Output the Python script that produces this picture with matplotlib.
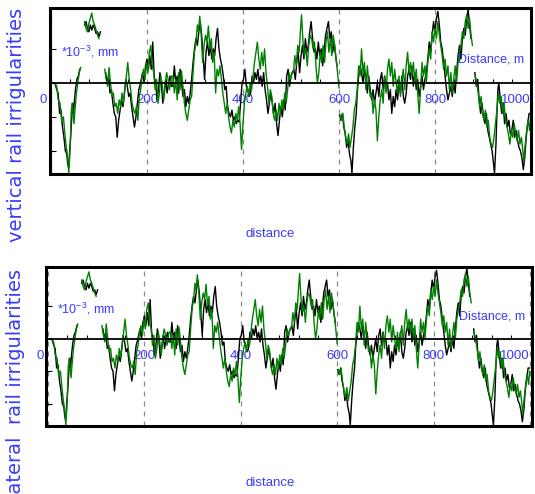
import numpy as np
import matplotlib
matplotlib.use("Agg")
import matplotlib.pyplot as plt
from matplotlib.patches import Rectangle
from matplotlib.ticker import MultipleLocator
from matplotlib.transforms import ScaledTranslation

NAN = np.nan

# ---- black series (distance m, irregularity *10^-3 mm) ----
dist_black = [0, 8, 12, 15, 18, 21, 24, 27, 30, 33, 35, 37, 39, 41, 43, 45, 47, 49, 51, 54, 57, 60, 65,
              70, 73, 76, 79, 82, 85, 88, 91, 94, 97, 100, 103, 108,
              114, 117, 120, 123, 126, 129, 132, 135, 138, 141, 144, 147, 150, 153, 156, 159, 162, 165, 168,
              171, 174, 177, 180, 183, 185, 188, 191, 194, 197, 200, 203, 206, 209, 212, 215, 218, 221, 224,
              227, 230, 233, 236, 239, 242, 245, 248, 251,
              254, 257, 260, 263, 266, 269, 272, 275, 278, 281, 284, 287, 290, 293, 296, 299, 302, 305, 308,
              311, 314, 317, 320, 323, 326, 329, 332, 335, 338, 341, 344, 347, 350, 353, 356, 359, 362, 365,
              368, 371, 374, 377, 380, 383, 386, 389, 392, 395, 398, 401, 404, 407, 410, 413, 416, 419, 422,
              425, 428, 431, 434, 437, 440, 443, 446, 449, 452, 455, 458, 461, 464, 467, 470, 473, 476, 479,
              482, 485, 488, 491, 494, 497, 500,
              503, 506, 509, 512, 515, 518, 521, 524, 527, 530, 533, 536, 539, 542, 545, 548, 551, 554, 557,
              560, 563, 566, 569, 572, 575, 578, 581, 584, 587, 590, 593, 596, 599,
              601, 604, 607, 610, 613, 616, 619, 622, 625, 627, 630, 633, 636, 638, 641, 644, 647, 650, 653,
              656, 659, 662, 665, 668, 671, 674, 677, 680, 683, 686, 689, 692, 695, 698, 701, 704, 707, 710,
              713, 716, 719, 722, 725, 728, 731, 734, 737, 740, 743, 746, 749,
              752, 755, 758, 761, 764, 767, 770, 773, 776, 779, 782, 785, 788, 791, 794, 797, 800, 803, 806,
              809, 812, 815, 818, 821, 824, 827, 830, 833, 836, 839, 842, 845, 848, 851, 854, 857, 860, 863,
              866, 869, 872, 875, 879,
              883, 886, 889, 892, 895, 898, 901, 904, 907, 910, 913, 916, 919, 922, 924, 927, 929, 931, 933,
              936, 939, 942, 945, 948, 951, 954, 957, 960, 963, 966, 969, 972, 975, 978, 981, 984, 987, 990,
              993, 996, 999]
irr_black = [0.0, 0.0, -0.2, -0.3, -0.9, -0.8, -1.3, -1.6, -2.0, -2.1, -2.4, -2.5, -2.0, -1.6, -1.1, -0.6, -0.9, -0.5, -0.2, 0.1, 0.2, 0.4, NAN,
             1.7, 1.8, 1.6, 1.5, 1.7, 1.55, 1.7, 1.6, 1.45, 1.5, 1.35, 1.5, NAN,
             0.3, 0.0, 0.2, -0.3, -0.2, -0.6, -0.9, -1.0, -1.6, -1.1, -0.8, -0.5, -0.7, -0.3, 0.1, -0.1, -0.4, -0.3, -0.7,
             -1.0, -1.3, -1.0, -0.6, -0.2, -0.1, 0.1, 0.3, 0.0, 0.5, 0.7, 0.4, 0.8, 0.4, 1.2, 0.2, 0.0, -0.5, -0.2,
             0.3, 0.0, -0.6, -0.3, 0.1, -0.3, 0.0, 0.2, -0.1,
             -0.1, 0.5, 0.0, 0.2, -0.3, 0.4, 0.0, -0.4, -0.2, -0.7, -0.4, -0.6, -0.3, 0.1, 0.6, 1.0, 1.3, 1.1, 1.5,
             1.8, 1.4, 0.8, 0.1, 0.9, 1.2, 0.8, 1.1, 0.7, 1.0, 0.8, 1.3, 1.6, 1.0, 0.7, 0.5, 0.2, -0.2, -0.1,
             -0.7, -0.9, -1.0, -0.8, -1.1, -1.0, -1.2, -1.1, -1.15, -0.6, 0.0, 0.1, 0.4, -0.1, -0.2, -0.4, -0.3, 0.2, 0.0,
             0.3, 0.1, 0.4, 0.0, 0.2, -0.1, 0.3, -0.2, -0.5, -0.9, -0.6, -0.3, -0.6, -0.9, -0.6, -1.2, -1.55, -1.1, -0.7,
             -1.0, -0.5, -0.8, 0.2, 0.4, -0.1, 0.2,
             0.3, 0.4, 0.1, 0.6, 0.9, 0.3, 0.8, 1.1, 0.7, 1.3, 0.9, 1.1, 1.5, 1.8, 1.3, 0.9, 1.0, 0.7, 1.2,
             0.8, 1.0, 0.5, 0.9, 1.4, 1.6, 1.8, 1.3, 1.5, 0.9, 1.2, 0.8, 0.5, NAN,
             -0.95, -1.1, -0.9, -1.3, -1.5, -1.9, -1.7, -2.1, -2.3, -2.66, -1.9, -1.3, -0.9, -0.3, 0.2, 0.5, 0.3, 0.0, 0.4,
             0.1, -0.3, 0.2, -0.2, -0.5, -0.2, -0.6, -0.3, 0.0, -0.4, 0.1, 0.3, -0.2, 0.2, -0.1, 0.0, -0.5, -0.2, -0.9,
             -0.4, -0.7, -0.2, -0.5, 0.0, -0.3, 0.2, -0.4, -0.6, -0.3, 0.2, 0.4, 0.1,
             0.5, -0.1, 0.3, -0.2, 0.1, -0.4, -0.1, 0.2, -0.2, 0.1, 0.3, 0.7, 1.2, 0.9, 1.4, 1.8, 1.5, 1.9, 2.1,
             1.7, 1.2, 1.0, 0.6, 0.2, -0.2, -0.5, -0.3, -0.1, -0.4, 0.0, -0.3, 0.3, 0.8, 1.1, 0.7, 1.3, 1.6, 1.4,
             1.9, 2.16, 1.7, 1.3, NAN,
             0.3, -0.1, 0.1, -0.5, -0.9, -0.6, -1.0, -1.2, -0.9, -1.4, -1.6, -1.8, -2.0, -2.4, -2.66, -1.8, -0.9, -0.2, 0.0,
             -0.5, -0.9, -0.6, -1.2, -0.9, -1.3, -1.1, -1.5, -1.4, -1.1, -1.6, -1.4, -1.7, -1.9, -2.0, -2.2, -2.55, -2.2, -1.6,
             -1.2, -0.9, -0.9]

# ---- green series ----
dist_green = [8, 12, 15, 19, 22, 26, 29, 32, 35, 37, 39, 41, 42, 44, 46, 48, 50, 53, 56, 59, 62, 66,
              70, 73, 76, 79, 82, 85, 88, 91, 94, 97, 100, 106,
              112, 115, 118, 121, 124, 127, 130, 133, 136, 139, 142, 145, 148, 151, 154, 157, 160, 163, 166,
              169, 172, 175, 178, 181, 184, 187, 190, 193, 196, 199, 202, 205, 208, 211, 214, 217, 220, 223,
              226, 229, 232, 235, 238, 241, 244, 247, 251,
              254, 257, 260, 263, 266, 269, 272, 275, 278, 281, 284, 287, 290, 293, 296, 299, 302, 305, 307,
              310, 313, 316, 319, 322, 325, 328, 331, 334, 337, 340, 343, 346, 349, 352, 355, 358, 361, 364,
              367, 370, 373, 376, 379, 382, 385, 388, 391, 394, 397, 400, 403, 406, 409, 412, 415, 418, 421,
              424, 427, 430, 433, 436, 439, 442, 445, 448, 451, 454, 457, 460, 463, 466, 469, 472, 475, 478,
              481, 484, 487, 490, 493, 496, 499, 502,
              505, 508, 511, 514, 517, 520, 522, 525, 528, 531, 534, 537, 540, 543, 546, 549, 552, 555, 558,
              561, 564, 567, 570, 573, 576, 579, 582, 585, 588, 591, 594, 597, 600, 601,
              602, 605, 608, 611, 614, 617, 620, 623, 626, 629, 632, 635, 638, 641, 644, 647, 650, 653, 656,
              659, 662, 665, 668, 671, 674, 677, 680, 683, 686, 689, 692, 695, 698, 701, 704, 707, 710, 713,
              716, 719, 722, 725, 728, 731, 734, 737, 740, 743, 746, 749,
              752, 755, 758, 761, 764, 767, 770, 773, 776, 779, 782, 785, 788, 791, 794, 797, 800, 803, 806,
              809, 812, 815, 818, 821, 824, 827, 830, 833, 836, 839, 842, 845, 848, 851, 854, 857, 860, 863,
              866, 869, 872, 875, 878, 881,
              884, 887, 890, 893, 896, 899, 902, 905, 908, 911, 914, 917, 920, 923, 926, 929, 932, 935, 938,
              941, 944, 947, 950, 953, 956, 959, 962, 965, 968, 971, 974, 977, 980, 983, 985, 988, 991, 994,
              997, 999]
irr_green = [0.0, -0.1, -0.5, -0.6, -1.1, -1.0, -1.5, -1.9, -2.2, -2.66, -2.2, -1.5, -0.9, -0.6, -0.9, -1.2, -0.8, -0.3, 0.0, 0.3, 0.45, NAN,
             1.8, 1.6, 1.5, 1.75, 1.9, 2.05, 1.8, 1.7, 1.55, 1.4, 1.3, NAN,
             0.4, 0.1, -0.1, 0.45, 0.0, -0.4, -0.3, -0.7, -0.6, -0.9, -0.5, -0.7, -0.3, -0.6, -0.2, 0.2, 0.6, 0.1, -0.2,
             -0.6, -0.8, -0.9, -0.7, -1.1, -0.4, -0.2, 0.2, 0.4, 0.1, 0.6, 0.3, 0.9, 1.1, 0.5, 0.3, -0.2, 0.1, -0.6,
             -0.3, 0.2, -0.1, -0.5, 0.0, 0.3, 0.1, -0.2, 0.2,
             0.2, -0.3, 0.1, -0.5, 0.3, -0.2, 0.35, -0.1, -0.6, -0.9, -1.1, -0.8, -0.5, -0.4, 0.3, 0.9, 1.2, 1.7, 1.5,
             1.96, 1.4, 0.6, 1.1, 1.4, 1.2, 1.67, 1.0, 1.3, 0.6, 0.9, -0.3, 0.4, 0.2, 0.5, 0.1, -0.3, -0.6, -0.9,
             -0.6, -1.0, -1.3, -1.47, -1.1, -1.3, -0.9, -1.1, -0.7, -1.2, -1.96, -1.2, -0.6, -0.3, -0.1, -0.4, 0.0, -0.2, 0.2,
             0.6, 0.9, 1.2, 0.7, 0.4, 0.9, 0.5, 1.0, 0.3, -0.1, -0.6, -0.2, -0.4, -0.9, -1.1, -0.8, -1.1, -0.6, -0.9,
             -0.5, -0.8, -0.3, -0.6, -0.2, 0.3, 0.1, 0.3,
             0.3, 0.8, 0.5, 1.1, 0.9, 1.6, 2.0, 1.2, 0.8, 1.0, 0.5, 1.1, 1.4, 1.3, 1.0, 1.2, 0.5, 0.0, 0.3,
             0.9, 0.6, 1.1, 0.6, 1.2, 1.5, 0.9, 1.3, 0.8, 1.4, 1.1, 0.7, 0.3, -0.15, NAN,
             -0.95, -1.1, -0.9, -1.3, -1.6, -1.8, -1.5, -1.9, -1.6, -1.3, -0.8, -0.6, -0.2, 0.5, 0.2, 1.0, 0.3, 0.6, -0.2,
             0.5, 0.0, -0.4, -0.3, -0.9, -0.5, -0.8, -1.7, -1.0, -0.5, -0.2, -0.6, 0.2, -0.3, 0.4, 0.7, 0.2, 0.6, -0.1,
             0.4, 0.0, -0.3, 0.2, -0.4, 0.1, 0.4, -0.2, 0.5, 0.9, 0.3, 0.6,
             0.2, 0.6, 0.0, 0.4, -0.3, -0.9, -0.2, 0.6, 0.2, 0.5, 0.0, 0.6, 1.0, 0.7, 1.5, 1.2, 1.6, 1.3, 1.8,
             1.4, 1.1, 0.8, 0.4, 0.7, 0.2, 0.5, -0.2, 0.3, -0.3, 0.1, 0.5, 0.0, 0.6, 0.9, 1.1, 1.5, 1.3, 1.8,
             2.0, 1.6, 1.9, 1.4, 1.1, NAN,
             0.2, 0.0, -0.3, -0.7, -0.4, -0.9, -1.1, -0.8, -1.3, -1.1, -1.6, -1.8, -1.9, -1.6, -1.2, -0.8, -0.3, -0.6, -0.4,
             -0.9, -0.6, -1.1, -1.3, -1.5, -1.8, -1.4, -1.6, -1.2, -1.5, -1.7, -1.4, -1.8, -1.6, -2.0, -2.3, -1.8, -1.4, -1.1,
             -1.4, -1.0]

x_ticks = [0, 200, 400, 600, 800, 1000]
x_ticklabels = ["0", "200", "400", "600", "800", "1000"]
y_ticks = [-2, -1, 0, 1]

BLUE = "#3a3aff"
GREEN = "#008000"
plt.rcParams["font.family"] = ["Liberation Sans", "DejaVu Sans"]
plt.rcParams["mathtext.default"] = "regular"

W, H = 535, 494
fig = plt.figure(figsize=(W / 100, H / 100), dpi=100)


def make_panel(rect, xlim, ylabel, label_top_px, ylab_x_px):
    ax = fig.add_axes(rect)
    ax.plot(dist_black, irr_black, color="black", lw=1.0)
    ax.plot(dist_green, irr_green, color=GREEN, lw=1.0)
    ax.set_xlim(*xlim)
    ax.set_ylim(-2.68, 2.2)
    for s in ("top", "left", "right"):
        ax.spines[s].set_visible(False)
    ax.spines["bottom"].set_position(("data", 0))
    ax.spines["bottom"].set_linewidth(1.3)
    ax.add_patch(Rectangle((0, 0), 1, 1, transform=ax.transAxes, fill=False,
                           lw=2.2, ec="black", clip_on=False, zorder=5))
    ax.set_xticks(x_ticks)
    ax.set_xticklabels(x_ticklabels)
    ax.xaxis.set_minor_locator(MultipleLocator(40))
    ax.tick_params(axis="x", which="major", length=0, pad=8, labelsize=9.5, labelcolor=BLUE)
    ax.tick_params(axis="x", which="minor", length=3, direction="in", width=0.8)
    ax.set_yticks(y_ticks)
    ax.tick_params(axis="y", which="major", length=4, direction="in", width=0.8, labelleft=False)
    ax.grid(axis="x", which="major", color="#8a8a8a", lw=0.9, ls=(0, (4, 4)))
    labs = ax.get_xticklabels()
    labs[0].set_ha("right")
    labs[0].set_transform(labs[0].get_transform() + ScaledTranslation(-4 / 100, 0, fig.dpi_scale_trans))
    labs[-1].set_ha("right")
    ax.text(0.022, 0.735, r"*10$^{-3}$, mm", transform=ax.transAxes, color=BLUE,
            fontsize=9, ha="left", va="center")
    ax.text(0.985, 0.69, "Distance, m", transform=ax.transAxes, color=BLUE,
            fontsize=9, ha="right", va="center")
    fig.text(ylab_x_px / W, 1 - label_top_px / H, ylabel, rotation=90, rotation_mode="anchor",
             ha="right", va="center", color=BLUE, fontsize=14, family="DejaVu Sans")
    return ax


make_panel([50 / W, 1 - 174 / H, 481 / W, 166 / H], (-2, 1000),
           "vertical rail irrigularities", 8, 17)
make_panel([46 / W, 1 - 426 / H, 486 / W, 159 / H], (-4, 1004),
           "lateral  rail irrigularities", 269, 16)

fig.text(270 / W, 1 - 234 / H, "distance", color=BLUE, fontsize=9.5, ha="center", va="center")
fig.text(270 / W, 1 - 483 / H, "distance", color=BLUE, fontsize=9.5, ha="center", va="center")

fig.savefig("out.png", dpi=100)
